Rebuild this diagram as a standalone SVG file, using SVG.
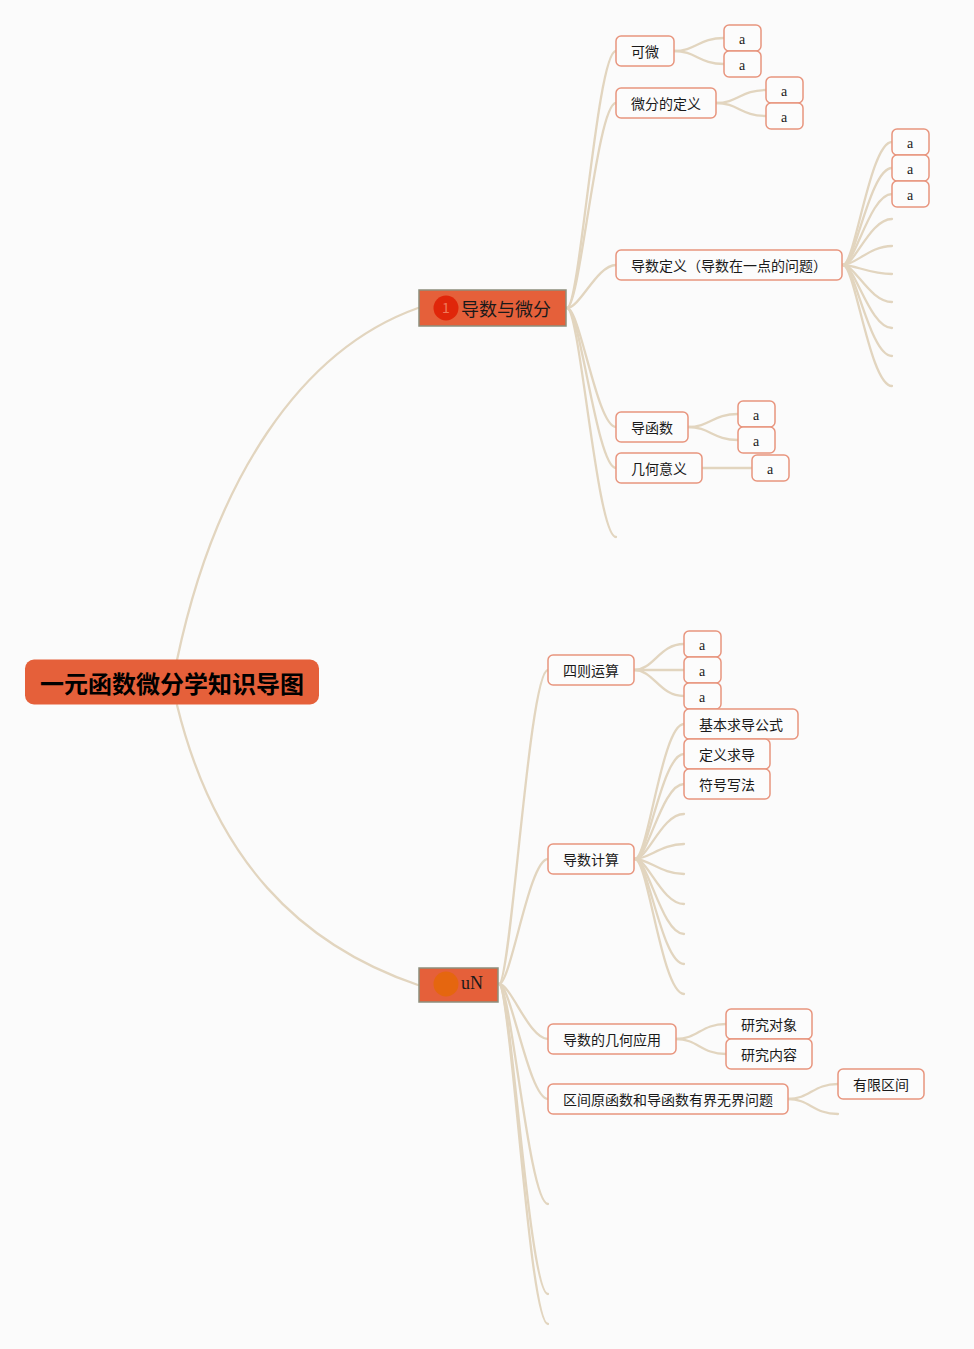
<svg xmlns="http://www.w3.org/2000/svg" width="974" height="1349" viewBox="0 0 974 1349">
<style>
text{font-family:"Noto Sans CJK SC","Liberation Sans",sans-serif;fill:#1a1a1a;font-size:14px}
.n{fill:#fcfcfc;stroke:#e8957e;stroke-width:1.5}
.a{font-family:"Liberation Serif","Noto Sans CJK SC",serif;font-size:14px;text-anchor:middle}
.c{fill:none;stroke:#e2d5bf;stroke-width:2.3;stroke-linecap:round}
.b{fill:#e5603a;stroke:#8d8f7c;stroke-width:1.5}
</style>
<rect width="974" height="1349" fill="#fbfbfb"/>
<g id="connectors">
<path class="c" d="M177 660C215 480 300 350 418 308"/>
<path class="c" d="M177 705C215 860 300 945 418 985"/>
<path class="c" d="M567 308C580 308 597 51 616 51"/>
<path class="c" d="M567 308C580 308 597 103 616 103"/>
<path class="c" d="M567 308C580 308 597 265 616 265"/>
<path class="c" d="M567 308C580 308 597 427 616 427"/>
<path class="c" d="M567 308C580 308 597 468 616 468"/>
<path class="c" d="M567 308C580 308 597 537 616 537"/>
<path class="c" d="M674 51C696 51 699 38 724 38"/>
<path class="c" d="M674 51C696 51 699 64 724 64"/>
<path class="c" d="M716 103C738 103 741 90 766 90"/>
<path class="c" d="M716 103C738 103 741 116 766 116"/>
<path class="c" d="M843 265C855 265 870 142 892 142"/>
<path class="c" d="M843 265C855 265 870 168 892 168"/>
<path class="c" d="M843 265C855 265 870 194 892 194"/>
<path class="c" d="M843 265C855 265 870 219 892 219"/>
<path class="c" d="M843 265C855 265 870 246 892 246"/>
<path class="c" d="M843 265C855 265 870 274 892 274"/>
<path class="c" d="M843 265C855 265 870 302 892 302"/>
<path class="c" d="M843 265C855 265 870 328 892 328"/>
<path class="c" d="M843 265C855 265 870 356 892 356"/>
<path class="c" d="M843 265C855 265 870 386 892 386"/>
<path class="c" d="M688 427C710 427 713 414 738 414"/>
<path class="c" d="M688 427C710 427 713 440 738 440"/>
<path class="c" d="M702 468H752"/>
<path class="c" d="M499 984C511 984 529 670 548 670"/>
<path class="c" d="M499 984C511 984 529 859 548 859"/>
<path class="c" d="M499 984C511 984 529 1039 548 1039"/>
<path class="c" d="M499 984C511 984 529 1099 548 1099"/>
<path class="c" d="M499 984C511 984 529 1204 548 1204"/>
<path class="c" d="M499 984C511 984 529 1294 548 1294"/>
<path class="c" d="M499 984C511 984 529 1324 548 1324"/>
<path class="c" d="M634 670C654 670 659 644 684 644"/>
<path class="c" d="M634 670C654 670 659 670 684 670"/>
<path class="c" d="M634 670C654 670 659 696 684 696"/>
<path class="c" d="M635 859C648 859 662 724 684 724"/>
<path class="c" d="M635 859C648 859 662 754 684 754"/>
<path class="c" d="M635 859C648 859 662 784 684 784"/>
<path class="c" d="M635 859C648 859 662 814 684 814"/>
<path class="c" d="M635 859C648 859 662 844 684 844"/>
<path class="c" d="M635 859C648 859 662 874 684 874"/>
<path class="c" d="M635 859C648 859 662 904 684 904"/>
<path class="c" d="M635 859C648 859 662 934 684 934"/>
<path class="c" d="M635 859C648 859 662 964 684 964"/>
<path class="c" d="M635 859C648 859 662 994 684 994"/>
<path class="c" d="M676 1039C698 1039 701 1024 726 1024"/>
<path class="c" d="M676 1039C698 1039 701 1054 726 1054"/>
<path class="c" d="M788 1099C810 1099 813 1084 838 1084"/>
<path class="c" d="M788 1099C810 1099 813 1114 838 1114"/>
</g>
<g id="root"><rect x="25" y="659.5" width="294" height="45" rx="9" fill="#e5603a"/><text x="40" y="693" style="font-size:24px;font-weight:700;fill:#000">一元函数微分学知识导图</text></g>
<g id="branch1"><rect class="b" x="419" y="290" width="147" height="36"/><circle cx="446" cy="308" r="12.5" fill="#e0260a"/><text x="446" y="313" text-anchor="middle" style="font-size:14px;fill:#f07a5a">1</text><text x="461" y="316" style="font-size:18px">导数与微分</text></g>
<g id="branch2"><rect class="b" x="419" y="968" width="79" height="34"/><circle cx="446" cy="984" r="12.5" fill="#e5660f"/><text x="461" y="989" style="font-size:18px;font-family:'Liberation Serif',serif">uN</text></g>
<g id="n1"><rect class="n" x="616" y="36" width="58" height="30" rx="5"/><text x="631" y="57">可微</text></g>
<g id="n1a"><rect class="n" x="724" y="25" width="37" height="26" rx="5"/><text class="a" x="742" y="44">a</text></g>
<g id="n1b"><rect class="n" x="724" y="51" width="37" height="26" rx="5"/><text class="a" x="742" y="70">a</text></g>
<g id="n2"><rect class="n" x="616" y="88" width="100" height="30" rx="5"/><text x="631" y="109">微分的定义</text></g>
<g id="n2a"><rect class="n" x="766" y="77" width="37" height="26" rx="5"/><text class="a" x="784" y="96">a</text></g>
<g id="n2b"><rect class="n" x="766" y="103" width="37" height="26" rx="5"/><text class="a" x="784" y="122">a</text></g>
<g id="n3"><rect class="n" x="616" y="250" width="226" height="30" rx="5"/><text x="631" y="271">导数定义（导数在一点的问题）</text></g>
<g id="n3a"><rect class="n" x="892" y="129" width="37" height="26" rx="5"/><text class="a" x="910" y="148">a</text></g>
<g id="n3b"><rect class="n" x="892" y="155" width="37" height="26" rx="5"/><text class="a" x="910" y="174">a</text></g>
<g id="n3c"><rect class="n" x="892" y="181" width="37" height="26" rx="5"/><text class="a" x="910" y="200">a</text></g>
<g id="n4"><rect class="n" x="616" y="412" width="72" height="30" rx="5"/><text x="631" y="433">导函数</text></g>
<g id="n4a"><rect class="n" x="738" y="401" width="37" height="26" rx="5"/><text class="a" x="756" y="420">a</text></g>
<g id="n4b"><rect class="n" x="738" y="427" width="37" height="26" rx="5"/><text class="a" x="756" y="446">a</text></g>
<g id="n5"><rect class="n" x="616" y="453" width="86" height="30" rx="5"/><text x="631" y="474">几何意义</text></g>
<g id="n5a"><rect class="n" x="752" y="455" width="37" height="26" rx="5"/><text class="a" x="770" y="474">a</text></g>
<g id="m1"><rect class="n" x="548" y="655" width="86" height="30" rx="5"/><text x="563" y="676">四则运算</text></g>
<g id="m1a"><rect class="n" x="684" y="631" width="37" height="26" rx="5"/><text class="a" x="702" y="650">a</text></g>
<g id="m1b"><rect class="n" x="684" y="657" width="37" height="26" rx="5"/><text class="a" x="702" y="676">a</text></g>
<g id="m1c"><rect class="n" x="684" y="683" width="37" height="26" rx="5"/><text class="a" x="702" y="702">a</text></g>
<g id="m2a"><rect class="n" x="684" y="709" width="114" height="30" rx="5"/><text x="699" y="730">基本求导公式</text></g>
<g id="m2b"><rect class="n" x="684" y="739" width="86" height="30" rx="5"/><text x="699" y="760">定义求导</text></g>
<g id="m2c"><rect class="n" x="684" y="769" width="86" height="30" rx="5"/><text x="699" y="790">符号写法</text></g>
<g id="m2"><rect class="n" x="548" y="844" width="86" height="30" rx="5"/><text x="563" y="865">导数计算</text></g>
<g id="m3"><rect class="n" x="548" y="1024" width="128" height="30" rx="5"/><text x="563" y="1045">导数的几何应用</text></g>
<g id="m3a"><rect class="n" x="726" y="1009" width="86" height="30" rx="5"/><text x="741" y="1030">研究对象</text></g>
<g id="m3b"><rect class="n" x="726" y="1039" width="86" height="30" rx="5"/><text x="741" y="1060">研究内容</text></g>
<g id="m4"><rect class="n" x="548" y="1084" width="240" height="30" rx="5"/><text x="563" y="1105">区间原函数和导函数有界无界问题</text></g>
<g id="m4a"><rect class="n" x="838" y="1069" width="86" height="30" rx="5"/><text x="853" y="1090">有限区间</text></g>
</svg>
